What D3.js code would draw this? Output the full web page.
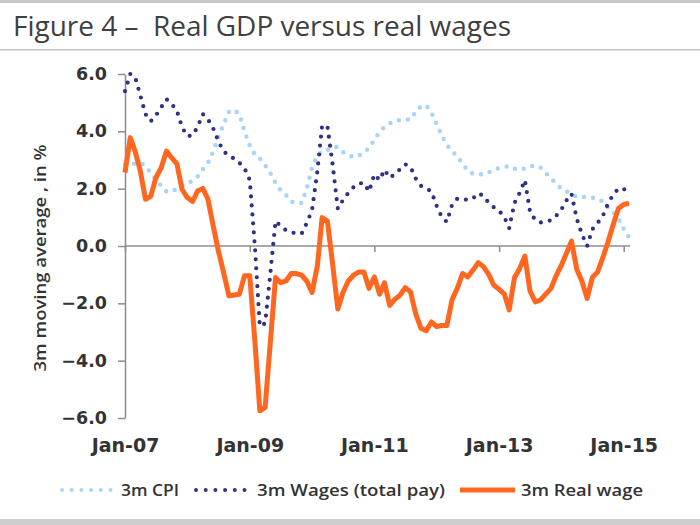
<!DOCTYPE html>
<html>
<head>
<meta charset="utf-8">
<script src="https://cdn.jsdelivr.net/npm/d3@7"></script>
<style>
  body { margin: 0; background: #fff; }
  svg { display: block; }
</style>
</head>
<body>
<div id="chart"></div>
<script>
// monthly, Jan-07 .. Feb-15 (3m moving averages, %)
const startMonth = new Date(2007, 0, 1);

const cpi3m = [
  2.85, 2.87, 2.87, 2.9, 2.78, 2.55, 2.32, 2.1, 1.9, 1.9, 2.0, 2.1,
  2.18, 2.28, 2.42, 2.68, 2.9, 3.3, 3.8, 4.25, 4.68, 4.75, 4.6, 4.0,
  3.5, 3.18, 3.05, 2.82, 2.55, 2.2, 1.95, 1.78, 1.55, 1.5, 1.5, 2.0,
  2.75, 3.15, 3.3, 3.35, 3.45, 3.45, 3.28, 3.18, 3.1, 3.15, 3.25, 3.42,
  3.7, 3.98, 4.15, 4.28, 4.35, 4.4, 4.41, 4.41, 4.68, 4.88, 4.9, 4.65,
  4.25, 3.85, 3.52, 3.3, 3.12, 2.88, 2.62, 2.52, 2.5, 2.5, 2.57, 2.65,
  2.72, 2.76, 2.79, 2.7, 2.66, 2.7, 2.78, 2.8, 2.73, 2.55, 2.35, 2.17,
  2.0, 1.9, 1.8, 1.72, 1.71, 1.71, 1.69, 1.65, 1.55, 1.35, 1.18, 0.95,
  0.6, 0.3
];

const wages3m = [
  5.4, 6.0, 5.9, 5.25, 4.6, 4.35, 4.55, 4.84, 5.12, 4.96, 4.72, 4.15,
  3.83, 3.86, 4.15, 4.6, 4.42, 4.1, 3.65, 3.3, 3.15, 3.05, 2.9, 2.72,
  2.3, -0.1, -2.8, -2.7, -1.0, 0.87, 0.7, 0.55, 0.47, 0.45, 0.43, 0.8,
  1.25, 2.6, 4.2, 4.18, 2.87, 1.3, 1.6, 1.85, 2.05, 2.18, 2.2, 1.9,
  2.5, 2.3, 2.66, 2.38, 2.5, 2.68, 2.85, 2.75, 2.35, 2.1, 2.01, 1.9,
  1.4, 1.0, 0.84, 1.45, 1.65, 1.65, 1.6, 1.66, 1.84, 1.75, 1.5, 1.35,
  1.23, 1.0, 0.62, 1.5, 1.85, 2.3, 1.2, 0.9, 0.82, 0.85, 0.9, 1.05,
  1.28, 1.6, 1.82, 0.95, 0.41, 0.0, 0.58, 0.8, 1.05, 1.48, 1.8, 2.0,
  2.0, 1.75
];

const realWage3m = [
  2.56, 3.78, 3.31, 2.61, 1.63, 1.74, 2.38, 2.73, 3.31, 3.08, 2.87, 1.98,
  1.69, 1.55, 1.92, 2.01, 1.63, 0.70, -0.17, -0.93, -1.74, -1.71, -1.68, -1.04,
  -1.04, -3.4, -5.75, -5.63, -3.4, -1.10, -1.28, -1.22, -0.96, -0.96, -1.02, -1.22,
  -1.62, -0.70, 0.99, 0.87, -0.6, -2.2, -1.62, -1.22, -1.02, -0.91, -0.91, -1.48,
  -1.08, -1.68, -1.28, -2.07, -1.86, -1.71, -1.45, -1.60, -2.38, -2.87, -2.96, -2.65,
  -2.81, -2.77, -2.77, -1.86, -1.48, -0.96, -1.08, -0.84, -0.58, -0.72, -0.99, -1.37,
  -1.51, -1.68, -2.23, -1.10, -0.79, -0.35, -1.57, -1.95, -1.88, -1.68, -1.48, -1.04,
  -0.67, -0.23, 0.17, -0.81, -1.22, -1.83, -1.10, -0.91, -0.40, 0.14, 0.76, 1.31,
  1.45, 1.49
];

const yTicks = [-6, -4, -2, 0, 2, 4, 6];
const xTickYears = [2007, 2009, 2011, 2013, 2015];

const seriesList = [
  { name: "3m CPI", values: cpi3m, color: "#a8d5f7", kind: "dots", width: 4.5 },
  { name: "3m Wages (total pay)", values: wages3m, color: "#2f3183", kind: "dots", width: 4.2 },
  { name: "3m Real wage", values: realWage3m, color: "#ff6620", kind: "line", width: 5 }
];

const W = 700, H = 525;
const margin = { left: 125, right: 71, top: 74, bottom: 107 };

const svg = d3.select("#chart").append("svg")
  .attr("width", W).attr("height", H);

// frame bits
svg.append("rect").attr("x", 0).attr("y", 0).attr("width", W).attr("height", 3).attr("fill", "#c9c9c9");
svg.append("rect").attr("x", 0).attr("y", 49).attr("width", W).attr("height", 1.5).attr("fill", "#c4c4c4");
svg.append("rect").attr("x", 0).attr("y", 519).attr("width", W).attr("height", 6).attr("fill", "#cdcdcd");

svg.append("text")
  .attr("x", 13).attr("y", 36)
  .attr("font-family", "'Open Sans', sans-serif")
  .attr("font-weight", 400)
  .attr("font-size", 28)
  .attr("fill", "#404040")
  .attr("textLength", 498).attr("lengthAdjust", "spacingAndGlyphs")
  .style("white-space", "pre")
  .text("Figure 4 \u2013  Real GDP versus real wages");

const dates = cpi3m.map((_, i) => d3.timeMonth.offset(startMonth, i));

const x = d3.scaleTime()
  .domain([dates[0], dates[dates.length - 1]])
  .range([margin.left, W - margin.right]);

const y = d3.scaleLinear()
  .domain([-6, 6])
  .range([H - margin.bottom, margin.top]);

// y axis
const yAxis = svg.append("g")
  .attr("transform", `translate(${margin.left},0)`)
  .call(d3.axisLeft(y).tickValues(yTicks).tickFormat(d3.format(".1f")).tickSize(7).tickSizeOuter(0));
yAxis.select(".domain").attr("stroke", "#8c8c8c").attr("stroke-width", 1.5);
yAxis.selectAll(".tick line").attr("stroke", "#8c8c8c").attr("stroke-width", 1.5);
yAxis.selectAll(".tick text")
  .attr("x", -18)
  .attr("font-family", "'DejaVu Sans', sans-serif")
  .attr("font-weight", "bold")
  .attr("font-size", 17.5)
  .attr("fill", "#333");

// x axis sits on zero line
const xAxis = svg.append("g")
  .attr("transform", `translate(0,${y(0)})`)
  .call(d3.axisBottom(x)
    .tickValues(xTickYears.map(yr => new Date(yr, 0, 1)))
    .tickFormat(d3.timeFormat("%b-%y"))
    .tickSize(6).tickSizeOuter(0));
xAxis.select(".domain").attr("stroke", "#8c8c8c").attr("stroke-width", 1.5)
  .attr("d", `M${margin.left},0H${W - margin.right + 1}`);
xAxis.selectAll(".tick line").attr("stroke", "#8c8c8c").attr("stroke-width", 1.5);
xAxis.selectAll(".tick text")
  .attr("y", 445 - y(0))
  .attr("dy", "0.35em")
  .attr("font-family", "'DejaVu Sans', sans-serif")
  .attr("font-weight", "bold")
  .attr("font-size", 19)
  .attr("fill", "#333");

// y axis title
svg.append("text")
  .attr("transform", `translate(46,${258}) rotate(-90)`)
  .attr("text-anchor", "middle")
  .attr("font-family", "'Open Sans', sans-serif")
  .attr("font-weight", 600)
  .attr("font-size", 16)
  .attr("fill", "#333")
  .attr("textLength", 227).attr("lengthAdjust", "spacingAndGlyphs")
  .text("3m moving average , in %");

const line = d3.line()
  .x((d, i) => x(dates[i]))
  .y(d => y(d));

seriesList.forEach(s => {
  const p = svg.append("path")
    .datum(s.values)
    .attr("fill", "none")
    .attr("stroke", s.color)
    .attr("stroke-width", s.width)
    .attr("d", line);
  if (s.kind === "dots") {
    p.attr("stroke-linecap", "round").attr("stroke-dasharray", "0 9");
  } else {
    p.attr("stroke-linejoin", "round");
  }
});

// legend
const legendY = 490;
const legendItems = [
  { s: seriesList[0], x0: 62, x1: 111, tx: 121, tw: 58 },
  { s: seriesList[1], x0: 196, x1: 247, tx: 257, tw: 188 },
  { s: seriesList[2], x0: 460, x1: 515, tx: 521, tw: 122 }
];
legendItems.forEach(it => {
  const g = svg.append("g");
  const seg = g.append("line")
    .attr("x1", it.x0).attr("x2", it.x1)
    .attr("y1", legendY).attr("y2", legendY)
    .attr("stroke", it.s.color)
    .attr("stroke-width", it.s.kind === "dots" ? 4 : 5);
  if (it.s.kind === "dots") seg.attr("stroke-linecap", "round").attr("stroke-dasharray", "0 9.7");
  g.append("text")
    .attr("x", it.tx).attr("y", legendY).attr("dy", "0.35em")
    .attr("font-family", "'Open Sans', sans-serif")
    .attr("font-weight", 600)
    .attr("font-size", 16)
    .attr("fill", "#333")
    .attr("textLength", it.tw).attr("lengthAdjust", "spacingAndGlyphs")
    .text(it.s.name);
});
</script>
</body>
</html>
